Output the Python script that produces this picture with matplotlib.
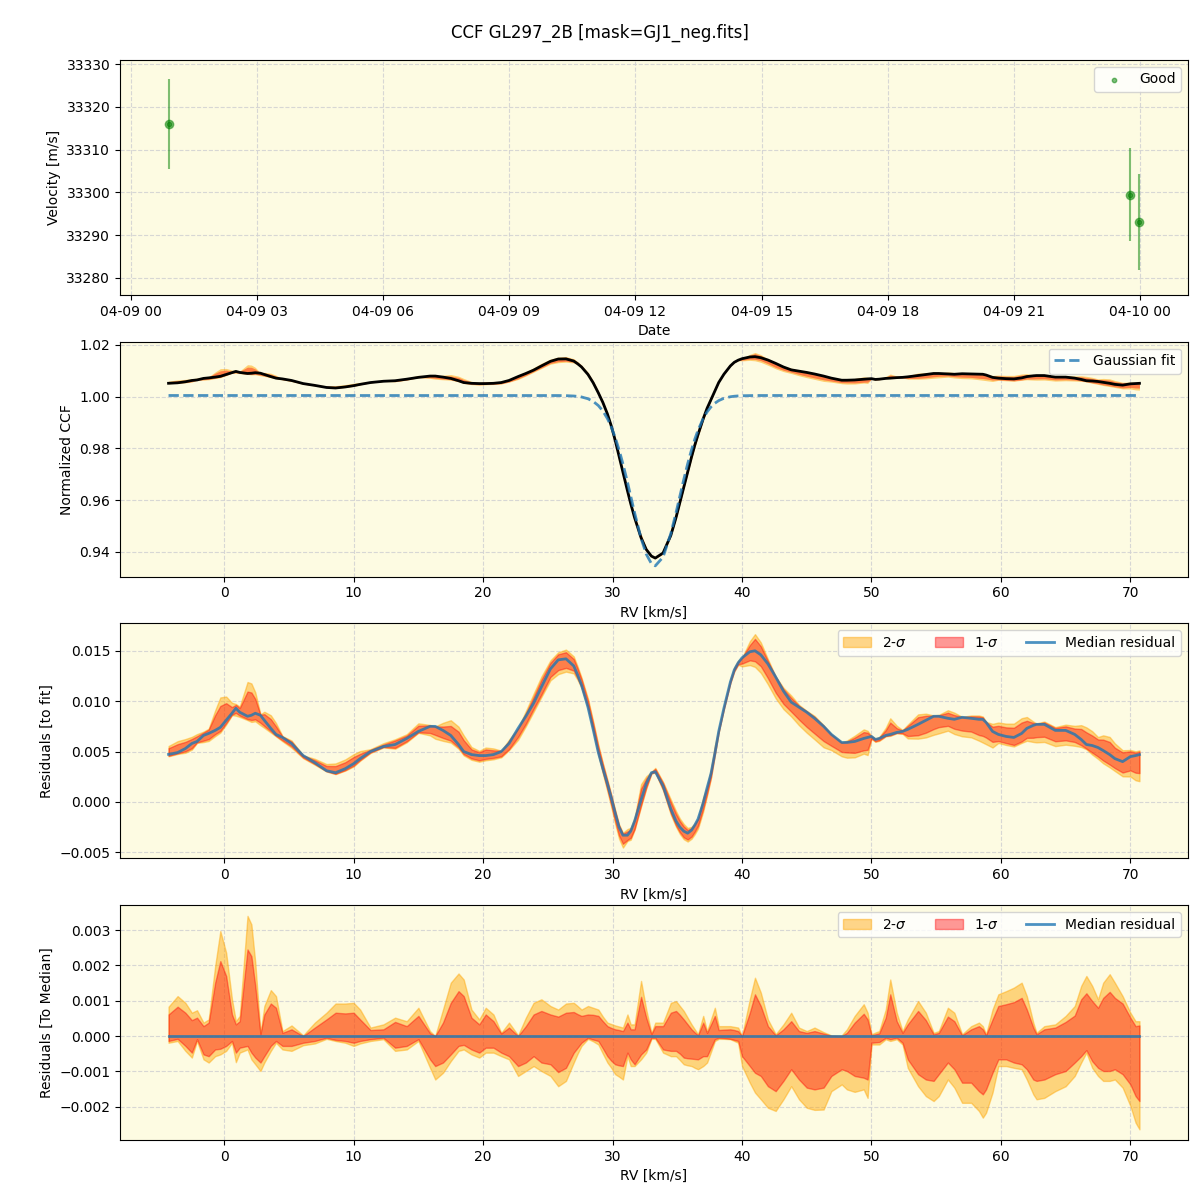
import numpy as np
import matplotlib
matplotlib.use('Agg')
import matplotlib.pyplot as plt
import matplotlib.dates as mdates
from datetime import datetime

# --- top panel: velocities per observation
obs_times = [datetime(2023, 4, 9, 0, 54), datetime(2023, 4, 9, 23, 46), datetime(2023, 4, 9, 23, 59)]
obs_vel = [33316.0, 33299.4, 33293.1]
obs_err = [10.6, 10.9, 11.3]

# --- CCF grid (km/s)
rv = np.array([-4.3, -3.6, -3.0, -2.5, -2.1, -1.6, -1.2, -0.7, -0.3, 0.15,
               0.6, 0.9, 1.2, 1.8, 2.1, 2.4, 2.8, 3.1, 3.6, 4.0,
               4.5, 5.2, 6.1, 7.0, 7.9, 8.6, 9.35, 10.0, 10.5, 11.3,
               12.3, 13.2, 14.1, 15.0, 15.9, 16.3, 16.9, 17.5, 18.1, 18.5,
               19.1, 19.7, 20.2, 20.8, 21.4, 22.0, 22.7, 23.3, 23.9, 24.5,
               25.2, 25.8, 26.4, 27.0, 27.3, 27.6, 28.1, 28.5, 28.9, 29.25,
               29.6, 29.9, 30.2, 30.5, 30.8, 31.15, 31.4, 31.7, 32.2, 32.6,
               33.0, 33.3, 33.9, 34.5, 34.9, 35.2, 35.5, 35.8, 36.1, 36.35,
               36.6, 37.0, 37.3, 37.6, 37.9, 38.2, 38.6, 39.1, 39.4, 39.7,
               40.0, 40.6, 41.0, 41.45, 42.0, 42.6, 43.2, 43.8, 44.4, 45.0,
               45.6, 46.3, 46.9, 47.7, 48.1, 48.7, 49.4, 49.7, 50.0, 50.3,
               50.6, 51.1, 51.45, 51.95, 52.4, 52.8, 53.6, 54.2, 54.8, 55.2,
               55.9, 56.4, 57.0, 57.7, 58.3, 58.6, 58.85, 59.35, 59.8, 60.4,
               61.0, 61.6, 62.0, 62.5, 62.75, 63.35, 64.2, 65.0, 65.7, 66.2,
               66.6, 67.05, 67.5, 67.9, 68.4, 68.8, 69.4, 70.0, 70.4, 70.7])

# median residual to the gaussian fit (x1e-3)
med_res = np.array([4.72, 4.9, 5.3, 5.8, 6.0, 6.6, 6.8, 7.1, 7.4, 8.1,
                    8.8, 9.3, 8.9, 8.5, 8.6, 8.8, 8.6, 8.1, 7.3, 6.7,
                    6.4, 5.8, 4.6, 3.9, 3.1, 2.9, 3.3, 3.8, 4.3, 5.0,
                    5.5, 5.7, 6.3, 7.0, 7.5, 7.5, 7.1, 6.6, 5.7, 5.0,
                    4.7, 4.6, 4.6, 4.7, 5.0, 5.8, 7.3, 8.5, 9.8, 11.4,
                    13.2, 14.1, 14.2, 13.5, 12.6, 11.6, 9.4, 7.2, 4.9, 3.3,
                    1.8, 0.4, -1.1, -2.5, -3.3, -3.3, -2.9, -1.9, 0.2, 1.8,
                    2.9, 3.0, 1.6, -0.7, -1.9, -2.5, -2.9, -3.1, -2.8, -2.3,
                    -1.7, -0.1, 1.4, 2.8, 4.8, 7.0, 9.3, 11.9, 13.1, 13.8,
                    14.3, 14.9, 15.0, 14.6, 13.7, 12.4, 11.0, 9.9, 9.4, 8.9,
                    8.3, 7.5, 6.7, 5.9, 5.9, 6.0, 6.3, 6.4, 6.5, 6.2,
                    6.3, 6.6, 6.7, 6.9, 7.0, 7.2, 7.7, 8.1, 8.5, 8.5,
                    8.3, 8.2, 8.4, 8.3, 8.2, 8.2, 7.9, 7.0, 6.7, 6.5,
                    6.4, 6.8, 7.3, 7.6, 7.7, 7.7, 7.1, 7.1, 6.7, 6.2,
                    5.7, 5.6, 5.4, 5.1, 4.7, 4.3, 4.0, 4.5, 4.6, 4.7]) * 1e-3

# band edges relative to the median (x1e-3)
hi2 = np.array([0.83, 1.13, 0.94, 0.66, 0.73, 0.38, 0.47, 1.98, 2.97, 2.36,
                1.04, 0.42, 0.57, 3.40, 3.16, 2.08, 0.09, 0.85, 1.30, 1.13,
                0.14, 0.30, 0.02, 0.38, 0.66, 0.92, 0.92, 0.94, 0.75, 0.24,
                0.33, 0.52, 0.42, 0.80, 0.14, 0.0, 0.75, 1.51, 1.77, 1.60,
                0.75, 0.47, 0.80, 0.61, 0.09, 0.38, 0.02, 0.52, 0.94, 1.04,
                0.85, 0.75, 0.92, 0.94, 0.85, 0.75, 0.85, 0.80, 0.75, 0.55,
                0.38, 0.34, 0.30, 0.27, 0.24, 0.61, 0.33, 0.33, 1.56, 0.75,
                0.09, 0.38, 0.38, 0.94, 0.99, 0.85, 0.71, 0.52, 0.33, 0.19,
                0.05, 0.57, 0.14, 0.47, 0.80, 0.28, 0.28, 0.28, 0.26, 0.24,
                0.0, 1.04, 1.65, 1.23, 0.47, 0.05, 0.33, 0.66, 0.24, 0.14,
                0.24, 0.11, 0.02, 0.02, 0.19, 0.57, 0.90, 0.66, 0.05, 0.10,
                0.14, 0.75, 1.60, 0.66, 0.14, 0.47, 0.99, 0.66, 0.09, 0.14,
                0.80, 0.66, 0.05, 0.28, 0.38, 0.28, 0.05, 0.75, 1.18, 1.27,
                1.37, 1.51, 1.13, 0.38, 0.09, 0.28, 0.33, 0.57, 0.85, 1.42,
                1.70, 1.42, 1.04, 1.51, 1.75, 1.51, 1.13, 0.66, 0.42, 0.42]) * 1e-3
hi1 = np.array([0.61, 0.83, 0.66, 0.45, 0.52, 0.28, 0.38, 1.51, 2.12, 1.70,
                0.61, 0.33, 0.42, 2.45, 2.26, 1.42, 0.05, 0.61, 0.92, 0.80,
                0.09, 0.19, 0.0, 0.24, 0.47, 0.66, 0.64, 0.66, 0.47, 0.17,
                0.19, 0.40, 0.28, 0.57, 0.08, 0.0, 0.38, 0.94, 1.27, 1.13,
                0.52, 0.33, 0.61, 0.42, 0.07, 0.24, 0.0, 0.28, 0.61, 0.71,
                0.61, 0.55, 0.66, 0.68, 0.62, 0.57, 0.61, 0.60, 0.57, 0.42,
                0.28, 0.23, 0.19, 0.17, 0.14, 0.38, 0.19, 0.19, 1.11, 0.52,
                0.05, 0.28, 0.28, 0.66, 0.71, 0.60, 0.47, 0.33, 0.19, 0.10,
                0.02, 0.38, 0.09, 0.33, 0.57, 0.17, 0.18, 0.19, 0.17, 0.14,
                0.0, 0.66, 1.18, 0.85, 0.28, 0.02, 0.19, 0.42, 0.14, 0.09,
                0.14, 0.07, 0.01, 0.0, 0.09, 0.38, 0.63, 0.47, 0.02, 0.05,
                0.08, 0.52, 1.18, 0.42, 0.09, 0.33, 0.71, 0.45, 0.05, 0.09,
                0.55, 0.42, 0.02, 0.19, 0.28, 0.19, 0.02, 0.47, 0.85, 0.90,
                0.96, 1.08, 0.75, 0.24, 0.05, 0.19, 0.24, 0.40, 0.58, 1.04,
                1.21, 0.99, 0.80, 1.08, 1.25, 1.08, 0.92, 0.52, 0.28, 0.30]) * 1e-3
lo1 = np.array([-0.14, -0.08, -0.28, -0.47, -0.09, -0.52, -0.57, -0.38, -0.36, -0.28,
                -0.14, -0.47, -0.33, -0.28, -0.47, -0.61, -0.75, -0.57, -0.28, -0.14,
                -0.28, -0.28, -0.19, -0.14, -0.05, -0.11, -0.14, -0.19, -0.14, -0.09,
                -0.05, -0.33, -0.28, -0.09, -0.66, -0.85, -0.75, -0.52, -0.28, -0.25,
                -0.38, -0.47, -0.33, -0.33, -0.47, -0.57, -0.85, -0.75, -0.57, -0.75,
                -0.80, -1.02, -0.90, -0.47, -0.33, -0.19, -0.05, -0.10, -0.14, -0.35,
                -0.57, -0.70, -0.80, -0.83, -0.85, -0.47, -0.66, -0.80, -0.52, -0.38,
                -0.05, -0.05, -0.38, -0.42, -0.42, -0.50, -0.61, -0.63, -0.64, -0.65,
                -0.66, -0.57, -0.57, -0.33, -0.09, -0.05, -0.06, -0.08, -0.11, -0.14,
                -0.57, -0.85, -1.04, -1.13, -1.42, -1.56, -1.27, -0.94, -1.23, -1.46,
                -1.51, -1.46, -1.13, -0.94, -0.99, -1.13, -1.18, -1.23, -0.19, -0.18,
                -0.17, -0.05, -0.09, -0.05, -0.19, -0.66, -1.08, -1.23, -1.27, -1.08,
                -0.75, -0.94, -1.32, -1.32, -1.56, -1.65, -1.51, -1.04, -0.66, -0.66,
                -0.75, -0.80, -0.94, -1.23, -1.27, -1.23, -1.08, -0.99, -0.75, -0.57,
                -0.40, -0.71, -0.90, -0.99, -0.99, -0.94, -1.08, -1.37, -1.70, -1.84]) * 1e-3
lo2 = np.array([-0.19, -0.14, -0.42, -0.61, -0.14, -0.66, -0.75, -0.57, -0.52, -0.42,
                -0.19, -0.74, -0.47, -0.38, -0.66, -0.80, -0.99, -0.75, -0.42, -0.19,
                -0.38, -0.42, -0.26, -0.21, -0.08, -0.14, -0.19, -0.28, -0.21, -0.14,
                -0.09, -0.42, -0.38, -0.14, -0.90, -1.23, -1.04, -0.71, -0.42, -0.38,
                -0.52, -0.61, -0.47, -0.47, -0.57, -0.66, -1.13, -0.99, -0.85, -0.99,
                -1.13, -1.42, -1.27, -0.75, -0.50, -0.28, -0.08, -0.15, -0.24, -0.50,
                -0.75, -0.90, -1.08, -1.15, -1.23, -0.57, -0.85, -0.85, -0.66, -0.47,
                -0.08, -0.08, -0.47, -0.57, -0.57, -0.68, -0.80, -0.83, -0.85, -0.90,
                -0.94, -0.85, -0.75, -0.45, -0.14, -0.08, -0.08, -0.09, -0.14, -0.19,
                -0.85, -1.32, -1.60, -1.79, -2.03, -2.12, -1.79, -1.42, -1.79, -2.03,
                -2.09, -2.08, -1.56, -1.37, -1.51, -1.58, -1.51, -1.75, -0.24, -0.24,
                -0.24, -0.09, -0.14, -0.09, -0.24, -0.90, -1.42, -1.70, -1.84, -1.70,
                -1.23, -1.46, -1.89, -1.89, -2.12, -2.31, -2.17, -1.60, -0.85, -0.85,
                -0.90, -0.94, -1.23, -1.65, -1.79, -1.75, -1.56, -1.42, -1.13, -0.75,
                -0.47, -0.90, -1.13, -1.27, -1.27, -1.23, -1.46, -1.98, -2.45, -2.64]) * 1e-3

# gaussian fit parameters
g_cont = 1.0004
g_depth = 0.0658
g_center = 33.3
g_sigma = 1.85

bg = '#fdfbe2'
gauss = g_cont - g_depth * np.exp(-0.5 * ((rv - g_center) / g_sigma) ** 2)
ccf = gauss + med_res

fig, axes = plt.subplots(4, 1, figsize=(12, 12), dpi=100)
fig.subplots_adjust(left=0.1, right=0.99, top=0.95, bottom=0.05, hspace=0.2)
fig.suptitle('CCF GL297_2B [mask=GJ1_neg.fits]', fontsize=12, y=0.98)

for ax in axes:
    ax.set_facecolor(bg)
    ax.grid(True, linestyle='--', color='lightgray', alpha=0.9)
    ax.set_axisbelow(True)

# panel 1
ax = axes[0]
ax.errorbar(obs_times, obs_vel, yerr=obs_err, fmt='o', color='green', alpha=0.5, ms=6)
ax.scatter(obs_times, obs_vel, s=10, color='green', alpha=0.5, label='Good')
ax.set_ylim(33276, 33331)
ax.xaxis.set_major_locator(mdates.HourLocator(byhour=range(0, 24, 3)))
ax.xaxis.set_major_formatter(mdates.DateFormatter('%m-%d %H'))
ax.set_xlabel('Date')
ax.set_ylabel('Velocity [m/s]')
ax.legend(loc='upper right')

# panel 2
ax = axes[1]
ax.fill_between(rv, ccf + lo2, ccf + hi2, color='orange', alpha=0.5, lw=0)
ax.fill_between(rv, ccf + lo1, ccf + hi1, color='red', alpha=0.4, lw=0)
ax.plot(rv, ccf, color='black', lw=2)
ax.plot(rv, gauss, '--', color='tab:blue', alpha=0.8, lw=2, label='Gaussian fit')
ax.set_xlabel('RV [km/s]')
ax.set_ylabel('Normalized CCF')
ax.legend(loc='upper right')

# panel 3
ax = axes[2]
ax.fill_between(rv, med_res + lo2, med_res + hi2, color='orange', alpha=0.45, label='2-$\\sigma$')
ax.fill_between(rv, med_res + lo1, med_res + hi1, color='red', alpha=0.4, label='1-$\\sigma$')
ax.plot(rv, med_res, color='tab:blue', alpha=0.8, lw=2, label='Median residual')
ax.set_xlabel('RV [km/s]')
ax.set_ylabel('Residuals [to fit]')
ax.legend(loc='upper right', ncol=3)

# panel 4
ax = axes[3]
ax.fill_between(rv, lo2, hi2, color='orange', alpha=0.45, label='2-$\\sigma$')
ax.fill_between(rv, lo1, hi1, color='red', alpha=0.4, label='1-$\\sigma$')
ax.plot(rv, med_res - med_res, color='tab:blue', alpha=0.8, lw=2, label='Median residual')
ax.set_xlabel('RV [km/s]')
ax.set_ylabel('Residuals [To Median]')
ax.legend(loc='upper right', ncol=3)

fig.savefig('out.png', dpi=100)
